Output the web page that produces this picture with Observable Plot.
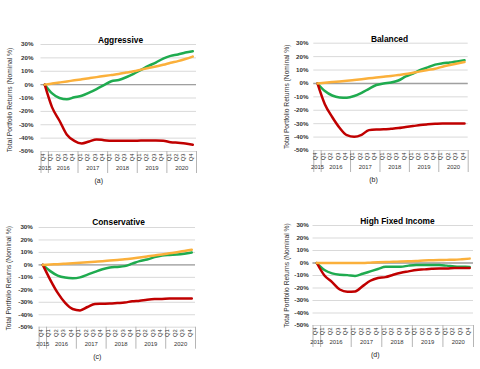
<!DOCTYPE html>
<html><head><meta charset="utf-8">
<script src="https://cdn.jsdelivr.net/npm/d3@7"></script>
<script src="https://cdn.jsdelivr.net/npm/@observablehq/plot@0.6"></script>
<style>
body{margin:0;background:#fff;font-family:"Liberation Sans",Arial,sans-serif;}
#wrap{position:relative;width:480px;height:369px;overflow:hidden;background:#fff}
.panel{position:absolute}
</style></head><body><div id="wrap"></div>
<script>
// Category axis (quarters + years)
const quarterLabels = ["Q4","Q1","Q2","Q3","Q4","Q1","Q2","Q3","Q4","Q1","Q2","Q3","Q4","Q1","Q2","Q3","Q4","Q1","Q2","Q3","Q4"];
const categoryYears = [2015,2016,2016,2016,2016,2017,2017,2017,2017,2018,2018,2018,2018,2019,2019,2019,2019,2020,2020,2020,2020];
const yTicks = [-50,-40,-30,-20,-10,0,10,20,30];

// Series names and colours
const seriesNames = ["Series A", "Series B", "Series C"];
const seriesColors = ["#1fab4f", "#c00000", "#fbb03b"];

// (a) Aggressive
const aggressiveA = [0,-6.5,-10,-11,-9.5,-8.3,-6,-3.3,-0.3,2.5,3.5,5.5,8,11,14,16.5,19.5,21.5,22.5,24,25];
const aggressiveB = [0,-17,-27,-37.5,-42,-44,-42.5,-41,-41.5,-42,-42,-42,-42,-41.8,-41.8,-41.8,-42,-43,-43.5,-44,-45];
const aggressiveC = [0,0.8,1.6,2.4,3.2,4,4.8,5.6,6.4,7.2,8,9,10,11.2,12.4,13.6,14.8,16.3,17.6,19.2,21];
// (b) Balanced
const balancedA = [0,-5.7,-9,-10.4,-10.6,-9.4,-7,-4,-1.2,0,0.7,2.2,5.2,7.4,10,12,14,15,15.6,16.3,17.3];
const balancedB = [0,-15.5,-25,-33,-38.6,-39.8,-38.3,-34.8,-34.3,-34.2,-33.8,-33.3,-32.5,-31.8,-31,-30.5,-30.1,-29.8,-29.8,-29.8,-29.8];
const balancedC = [0,0.5,1,1.5,2,2.6,3.2,3.8,4.4,5,5.6,6.3,7,8,9,10,11,12.5,13.7,14.8,16];
// (c) Conservative
const conservativeA = [0,-5,-8.6,-10.2,-10.7,-10,-7.8,-5.6,-3.5,-2.1,-1.6,-1,1,3,4.3,6.2,7.5,8,8.3,9,10];
const conservativeB = [0,-12,-22.5,-30.5,-35.4,-36.5,-33.8,-31.4,-31.2,-31,-30.6,-30.2,-29.2,-28.7,-27.9,-27.4,-27.3,-27,-27,-27,-27];
const conservativeC = [0,0.3,0.6,1,1.4,1.8,2.2,2.6,3,3.5,4,4.5,5.2,6,6.8,7.6,8.4,9.3,10.2,11.2,12.2];
// (d) High Fixed Income
const highFixedA = [0,-5.6,-8.3,-9.4,-9.7,-10.4,-8.6,-6.7,-4.8,-3,-3,-3,-2.1,-1.6,-1.6,-1.6,-1.6,-2.1,-2.7,-3,-3.2];
const highFixedB = [0,-10,-15.3,-21.2,-23,-22.8,-18.5,-14.2,-12,-11.3,-9.4,-7.8,-6.7,-5.6,-5.1,-4.6,-4.3,-4.3,-4,-4,-4];
const highFixedC = [0,0,0,0,0,0,0,0.3,0.6,0.8,1,1.2,1.4,1.6,2,2.2,2.4,2.5,2.6,3,3.5];

const titles = ["Aggressive", "Balanced", "Conservative", "High Fixed Income"];
const letters = ["(a)", "(b)", "(c)", "(d)"];
const yTitle = "Total Portfolio Returns (Nominal %)";

// derived category helpers
const yearGroups = d3.groups(categoryYears.map((y, i) => ({y, i})), d => d.y);
const yearCenters = yearGroups.map(([y, arr]) => ({year: String(y), x: (arr[0].i + arr[arr.length - 1].i) / 2}));
const boundaries = [-0.5, ...yearGroups.map(([y, arr]) => arr[arr.length - 1].i + 0.5)];

function makePanel(cfg) {
  const {ox, oy, W, H, fl, fr, ft, fb, title, tdx, tdy, letter, ldx, tickPad, ytdx, ytdy, series} = cfg;
  const frameH = fb - ft;
  const data = [];
  series.forEach((vals, k) => vals.forEach((v, i) => data.push({i, v, name: seriesNames[k]})));
  const font = "Liberation Sans, Arial, sans-serif";
  const chart = Plot.plot({
    width: W, height: H,
    marginLeft: fl - ox, marginRight: ox + W - fr,
    marginTop: ft - oy, marginBottom: oy + H - fb,
    style: {background: "none", overflow: "visible", fontFamily: font},
    x: {domain: [-0.5, quarterLabels.length - 0.5], axis: null},
    y: {domain: [-50, 30], axis: null},
    color: {domain: seriesNames, range: seriesColors},
    marks: [
      Plot.ruleY(yTicks, {stroke: "#d9d9d9", strokeWidth: 1}),
      Plot.ruleY([0], {stroke: "#a0a0a0", strokeWidth: 1.4}),
      Plot.text(yTicks, {x: -0.5, y: d => d, text: d => d + "%", textAnchor: "end", dx: -tickPad, fontSize: 6.2, fill: "#333", fontWeight: "bold"}),
      Plot.text([yTitle], {frameAnchor: "left", textAnchor: "middle", text: d => d, rotate: -90, dx: ytdx, dy: ytdy, fontSize: 6.7, fill: "#333"}),
      Plot.text([title], {frameAnchor: "top", text: d => d, dx: tdx, dy: tdy, fontSize: 8.4, fontWeight: "bold", fill: "#000"}),
      Plot.ruleX(boundaries, {x: d => d, insetTop: frameH, insetBottom: -22, stroke: "#b5b5b5", strokeWidth: 1}),
      Plot.text(quarterLabels, {x: (d, i) => i, text: d => d, frameAnchor: "bottom", rotate: -90, textAnchor: "end", dy: 2, fontSize: 5.8, fill: "#333"}),
      Plot.text(yearCenters, {x: "x", text: "year", frameAnchor: "bottom", dy: 18.5, fontSize: 5.9, fill: "#333"}),
      Plot.text([letter], {frameAnchor: "bottom", text: d => d, dx: ldx, dy: 31.5, fontSize: 7, fill: "#222"}),
      Plot.line(data, {x: "i", y: "v", z: "name", stroke: "name", strokeWidth: 2.5, curve: "monotone-x"})
    ]
  });
  const div = document.createElement("div");
  div.className = "panel";
  div.style.left = ox + "px";
  div.style.top = oy + "px";
  div.appendChild(chart);
  document.getElementById("wrap").appendChild(div);
}

makePanel({ox: 0, oy: 0, W: 240, H: 185, fl: 40.5, fr: 196, ft: 44, fb: 151,
  title: titles[0], tdx: 1.75, tdy: -7.5, letter: letters[0], ldx: -20, tickPad: 7.5, ytdx: -31, ytdy: 2,
  series: [aggressiveA, aggressiveB, aggressiveC]});
makePanel({ox: 240, oy: 0, W: 240, H: 185, fl: 313.3, fr: 467.7, ft: 42.7, fb: 150,
  title: titles[1], tdx: -1.5, tdy: -6.7, letter: letters[1], ldx: -17.5, tickPad: 5.3, ytdx: -26.6, ytdy: 0,
  series: [balancedA, balancedB, balancedC]});
makePanel({ox: 0, oy: 185, W: 240, H: 184, fl: 38.6, fr: 195, ft: 227, fb: 326.7,
  title: titles[2], tdx: 1.2, tdy: -8.7, letter: letters[2], ldx: -20, tickPad: 6.3, ytdx: -30.3, ytdy: 1,
  series: [conservativeA, conservativeB, conservativeC]});
makePanel({ox: 240, oy: 185, W: 240, H: 184, fl: 312.5, fr: 473, ft: 225, fb: 325,
  title: titles[3], tdx: 4.25, tdy: -7.7, letter: letters[3], ldx: -18, tickPad: 4.2, ytdx: -25.8, ytdy: 0,
  series: [highFixedA, highFixedB, highFixedC]});
</script>
</body></html>
